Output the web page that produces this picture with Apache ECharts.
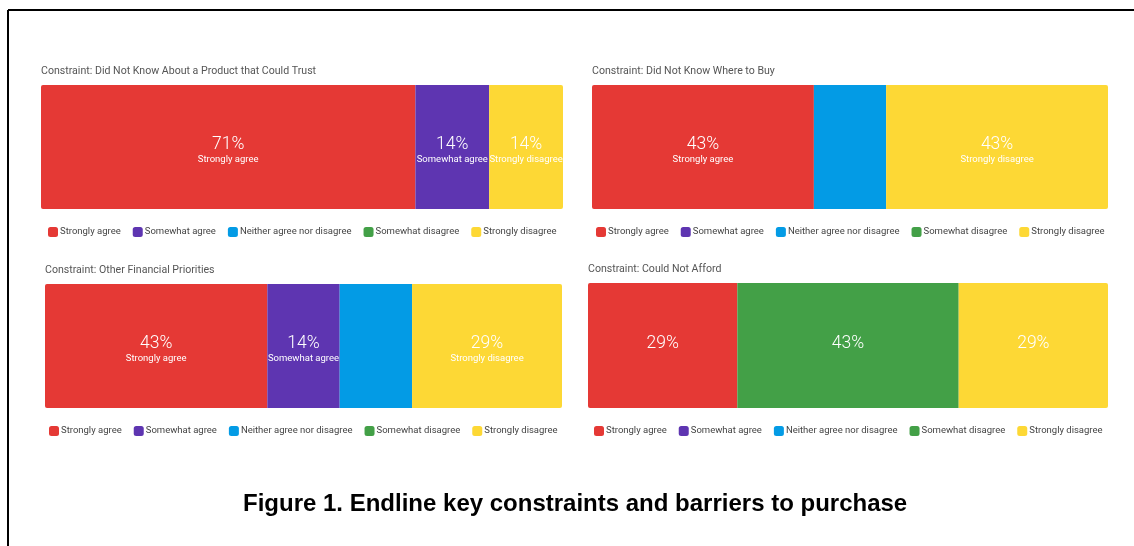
<!DOCTYPE html>
<html>
<head>
<meta charset="utf-8">
<title>Endline key constraints and barriers to purchase</title>
<script src="https://cdn.jsdelivr.net/npm/echarts@6/dist/echarts.min.js"></script>
<style>
  html, body { margin: 0; padding: 0; background: #fff; }
  #chart { width: 1134px; height: 546px; }
</style>
</head>
<body>
<div id="chart"></div>
<script>
// Response categories shared by every panel
const categories = ['Strongly agree', 'Somewhat agree', 'Neither agree nor disagree', 'Somewhat disagree', 'Strongly disagree'];
const categoryColors = ['#E53935', '#5E35B1', '#039BE5', '#43A047', '#FDD835'];

// Panel headings
const panelTitles = [
  'Constraint: Did Not Know About a Product that Could Trust',
  'Constraint: Did Not Know Where to Buy',
  'Constraint: Other Financial Priorities',
  'Constraint: Could Not Afford'
];

// Share of respondents (%) per category, one array per panel
const trustValues     = [71, 14, null, null, 14];
const whereValues     = [43, null, 14, null, 43];
const financialValues = [43, 14, 14, null, 29];
const affordValues    = [29, null, null, 43, 29];

// Which segments carry a value label (1 = labelled)
const trustLabelled     = [1, 1, 0, 0, 1];
const whereLabelled     = [1, 0, 0, 0, 1];
const financialLabelled = [1, 1, 0, 0, 1];
const affordLabelled    = [1, 0, 0, 1, 1];

// Whether the category name is printed under the percentage
const nameUnderValue = [true, true, true, false];

const figureCaption = 'Figure 1. Endline key constraints and barriers to purchase';

const panelValues = [trustValues, whereValues, financialValues, affordValues];
const panelLabelled = [trustLabelled, whereLabelled, financialLabelled, affordLabelled];

// Panel boxes: bar area, heading and legend placement
const layout = [
  { left: 41,  top: 85,  width: 522, height: 124, titleY: 66,  legendY: 227 },
  { left: 592, top: 85,  width: 516, height: 124, titleY: 66,  legendY: 227 },
  { left: 45,  top: 284, width: 517, height: 124, titleY: 265, legendY: 426 },
  { left: 588, top: 283, width: 520, height: 125, titleY: 264, legendY: 426 }
];

const FONT = 'Roboto, "Noto Sans", sans-serif';
const LEGEND_FONT_SIZE = 9.5;
const LEGEND_ICON = 10;
const LEGEND_GAP = 12;
const LEGEND_TEXT_GAP = 2;   // icon-to-text spacing (library default 5, pulled in by 3)

// Width of a horizontal legend row, so it can be centred under its bar
const measureCtx = document.createElement('canvas').getContext('2d');
measureCtx.font = LEGEND_FONT_SIZE + 'px ' + FONT;
const legendWidth = categories.reduce((w, name) =>
  w + LEGEND_ICON + LEGEND_TEXT_GAP + measureCtx.measureText(name).width, 0) + LEGEND_GAP * (categories.length - 1);

const chart = echarts.init(document.getElementById('chart'), null, { renderer: 'canvas' });

const grids = [], xAxes = [], yAxes = [], series = [], titles = [], legends = [];

panelValues.forEach((values, p) => {
  const box = layout[p];
  grids.push({ left: box.left, top: box.top, width: box.width, height: box.height, containLabel: false });
  const total = values.reduce((s, v) => s + (v || 0), 0);
  xAxes.push({ type: 'value', gridIndex: p, min: 0, max: total, show: false });
  yAxes.push({ type: 'category', gridIndex: p, data: ['constraint'], show: false });

  titles.push({
    text: panelTitles[p],
    left: box.left,
    top: box.titleY,
    padding: 0,
    textStyle: { fontFamily: FONT, fontSize: 10.6, fontWeight: 'normal', color: '#555' }
  });

  const present = values.map((v, i) => (v != null ? i : -1)).filter(i => i >= 0);
  const firstIdx = present[0], lastIdx = present[present.length - 1];

  categories.forEach((name, c) => {
    const v = values[c];
    let radius = 0;
    if (c === firstIdx) radius = [2, 0, 0, 2];
    if (c === lastIdx) radius = [0, 2, 2, 0];
    series.push({
      name: name,
      type: 'bar',
      xAxisIndex: p,
      yAxisIndex: p,
      stack: 'panel' + p,
      barWidth: '100%',
      itemStyle: { color: categoryColors[c], borderRadius: radius },
      emphasis: { disabled: true },
      label: {
        show: !!panelLabelled[p][c],
        position: 'inside',
        offset: nameUnderValue[p] ? [0, 3] : [0, -2],
        color: '#fff',
        fontFamily: FONT,
        formatter: nameUnderValue[p] ? '{v|{c}%}\n{n|{a}}' : '{v|{c}%}',
        rich: {
          v: { fontSize: 17.5, fontWeight: 300, color: '#fff', fontFamily: FONT, lineHeight: 19 },
          n: { fontSize: 9.5, color: '#fff', fontFamily: FONT, lineHeight: 11 }
        }
      },
      data: v == null ? [] : [v]
    });
  });

  legends.push({
    data: categories,
    left: Math.round(box.left + box.width / 2 - legendWidth / 2),
    top: box.legendY,
    padding: 0,
    orient: 'horizontal',
    icon: 'roundRect',
    itemWidth: LEGEND_ICON,
    itemHeight: LEGEND_ICON,
    itemGap: LEGEND_GAP,
    selectedMode: false,
    textStyle: { fontFamily: FONT, fontSize: LEGEND_FONT_SIZE, color: '#444', padding: [0, 0, 0, LEGEND_TEXT_GAP - 5] }
  });
});

titles.push({
  text: figureCaption,
  left: 243,
  top: 492,
  padding: 0,
  textStyle: { fontFamily: '"Liberation Sans", Arial, sans-serif', fontSize: 24, fontWeight: 'bold', color: '#000' }
});

chart.setOption({
  animation: false,
  backgroundColor: '#fff',
  title: titles,
  legend: legends,
  grid: grids,
  xAxis: xAxes,
  yAxis: yAxes,
  series: series,
  graphic: [
    { type: 'line', shape: { x1: 8, y1: 10, x2: 1134, y2: 10 }, style: { stroke: '#000', lineWidth: 2 } },
    { type: 'line', shape: { x1: 8, y1: 10, x2: 8, y2: 546 }, style: { stroke: '#000', lineWidth: 2 } }
  ]
});
</script>
</body>
</html>
